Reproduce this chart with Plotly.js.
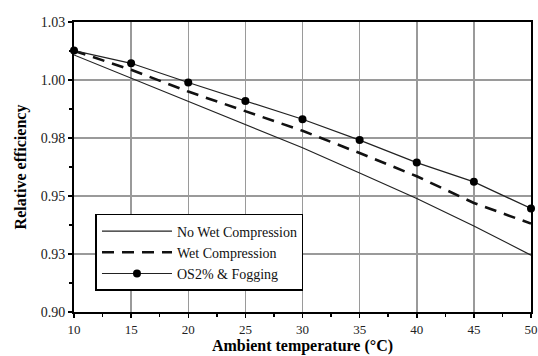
<!DOCTYPE html>
<html>
<head>
<meta charset="utf-8">
<script src="https://cdn.plot.ly/plotly-3.0.1.min.js"></script>
<style>html,body{margin:0;padding:0;background:#fff;}#chart{width:538px;height:356px;}</style>
</head>
<body>
<div id="chart"></div>
<script>
// Ambient temperature (°C)
const temperature = [10, 15, 20, 25, 30, 35, 40, 45, 50];
// Relative efficiency for each case
const noWetCompression = [1.0108, 1.0008, 0.9910, 0.9807, 0.9708, 0.9599, 0.9489, 0.9371, 0.9245];
const wetCompression   = [1.0126, 1.0044, 0.9950, 0.9864, 0.9781, 0.9685, 0.9585, 0.9470, 0.9381];
const os2Fogging       = [1.0127, 1.0072, 0.9989, 0.9909, 0.9831, 0.9741, 0.9644, 0.9561, 0.9446];
// Axis ticks
const xTickVals = [10, 15, 20, 25, 30, 35, 40, 45, 50];
const yTickVals = [0.900, 0.925, 0.950, 0.975, 1.000, 1.025];
const yTickText = ['0.90', '0.93', '0.95', '0.98', '1.00', '1.03'];
const seriesNames = ['No Wet Compression', 'Wet Compression', 'OS2% & Fogging'];

const FONT = 'Liberation Serif';

const traces = [
  {x: temperature, y: noWetCompression, name: seriesNames[0], mode: 'lines', type: 'scatter',
   line: {color: '#222', width: 1.2}},
  {x: temperature, y: wetCompression, name: seriesNames[1], mode: 'lines', type: 'scatter',
   line: {color: '#111', width: 2.6, dash: '12px,8px'}},
  {x: temperature, y: os2Fogging, name: seriesNames[2], mode: 'lines+markers', type: 'scatter',
   line: {color: '#222', width: 1.2}, marker: {color: '#000', size: 8, symbol: 'circle'}, cliponaxis: false}
];

const layout = {
  width: 538, height: 356,
  margin: {l: 74, r: 7, t: 22, b: 44},
  paper_bgcolor: '#fff', plot_bgcolor: '#fff',
  font: {family: FONT, size: 14, color: '#111'},
  showlegend: true,
  legend: {
    x: 0.047, y: 0.338, xanchor: 'left', yanchor: 'top',
    bgcolor: '#fff', bordercolor: '#000', borderwidth: 1.5,
    font: {family: FONT, size: 14, color: '#111'},
    tracegroupgap: 0, itemwidth: 70
  },
  xaxis: {
    range: [10, 50], tickvals: xTickVals, ticktext: xTickVals.map(String),
    showgrid: true, gridcolor: '#9a9a9a', gridwidth: 1.5,
    showline: true, linecolor: '#000', linewidth: 2, mirror: true,
    ticks: 'outside', ticklen: 4, tickwidth: 1.5, tickcolor: '#000',
    minor: {dtick: 2.5, ticks: 'outside', ticklen: 3, tickwidth: 1.5, tickcolor: '#000', showgrid: false},
    zeroline: false, automargin: false, ticklabeloverflow: 'allow',
    tickfont: {family: FONT, size: 13, color: '#222'},
    title: {text: 'Ambient temperature (°C)', font: {family: FONT, size: 16, color: '#000', weight: 'bold'}, standoff: 0}
  },
  yaxis: {
    range: [0.9, 1.025], tickvals: yTickVals, ticktext: yTickText,
    showgrid: true, gridcolor: '#9a9a9a', gridwidth: 1.5,
    showline: true, linecolor: '#000', linewidth: 2, mirror: true,
    ticks: 'outside', ticklen: 4, tickwidth: 1.5, tickcolor: '#000',
    minor: {dtick: 0.0125, tick0: 0.9, ticks: 'outside', ticklen: 3, tickwidth: 1.5, tickcolor: '#000', showgrid: false},
    zeroline: false, automargin: false, ticklabeloverflow: 'allow',
    tickfont: {family: FONT, size: 14, color: '#222'},
    title: {text: 'Relative efficiency', font: {family: FONT, size: 16, color: '#000', weight: 'bold'}, standoff: 10}
  }
};

Plotly.newPlot('chart', traces, layout, {displayModeBar: false, staticPlot: true});
</script>
</body>
</html>
